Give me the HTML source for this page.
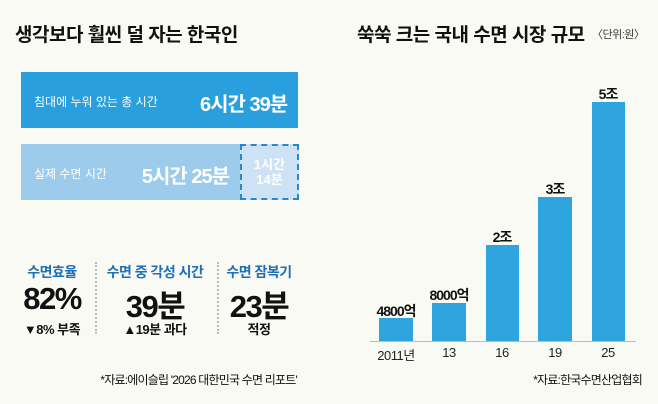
<!DOCTYPE html>
<html><head><meta charset="utf-8"><style>
body{margin:0;width:658px;height:404px;background:#fafaf5;position:relative;overflow:hidden;font-family:"Liberation Sans","Noto Sans CJK KR",sans-serif;}
div,span{position:absolute;white-space:nowrap;}
.t{font-weight:bold;font-size:19px;color:#111;letter-spacing:-0.5px;}
.w{color:#fff;}
.lab{font-size:14px;font-weight:bold;color:#1e6fb5;text-align:center;width:110px;letter-spacing:-0.5px}
.big{font-size:31px;font-weight:bold;color:#111;text-align:center;width:110px;letter-spacing:-1.5px}
.sub{font-size:13px;font-weight:bold;color:#111;text-align:center;width:110px;letter-spacing:-0.5px}
.bar{background:#2fa5e0}
.vl{font-size:14px;font-weight:bold;color:#111;text-align:center;width:70px;letter-spacing:-1px}
.xl{font-size:13px;color:#222;text-align:center;width:60px;letter-spacing:-0.5px}
</style></head><body>
<div class="t" style="left:15px;top:20px">생각보다 훨씬 덜 자는 한국인</div>
<div style="left:21px;top:72px;width:277px;height:56px;background:#2a9fdd"></div>
<div class="w" style="left:34px;top:93px;font-size:12px">침대에 누워 있는 총 시간</div>
<div class="w" style="left:200px;top:88px;width:87px;text-align:right;font-size:20px;font-weight:bold;letter-spacing:-1px">6시간 39분</div>
<div style="left:21px;top:144px;width:219px;height:56px;background:#9dcbec"></div>
<div style="left:240px;top:144px;width:55px;height:52px;background:#cde2f4;border:2px dashed #2a88c8"></div>
<div class="w" style="left:34px;top:165px;font-size:12px">실제 수면 시간</div>
<div class="w" style="left:140px;top:160px;width:89px;text-align:right;font-size:20px;font-weight:bold;letter-spacing:-1px">5시간 25분</div>
<div class="w" style="left:242px;top:157px;width:55px;text-align:center;font-size:13px;line-height:15px;font-weight:bold">1시간<br>14분</div>
<div class="lab" style="left:-3px;top:262px">수면효율</div>
<div class="lab" style="left:100px;top:262px">수면 중 각성 시간</div>
<div class="lab" style="left:204px;top:262px">수면 잠복기</div>
<div class="big" style="left:-3px;top:281px">82%</div>
<div class="big" style="left:100px;top:281px">39분</div>
<div class="big" style="left:204px;top:281px">23분</div>
<div class="sub" style="left:-3px;top:319px">▼8% 부족</div>
<div class="sub" style="left:100px;top:319px">▲19분 과다</div>
<div class="sub" style="left:204px;top:319px">적정</div>
<div style="left:95px;top:262px;height:72px;border-left:2px dotted #bbb"></div>
<div style="left:217px;top:262px;height:72px;border-left:2px dotted #bbb"></div>
<div style="left:100px;top:371px;width:197px;text-align:right;font-size:12px;color:#111;letter-spacing:-0.8px">*자료:에이슬립 '2026 대한민국 수면 리포트'</div>

<div class="t" style="left:357px;top:20px">쑥쑥 크는 국내 수면 시장 규모</div>
<div style="left:592px;top:26px;font-size:11px;color:#333;letter-spacing:-0.5px">〈단위:원〉</div>
<div class="bar" style="left:379px;top:318px;width:34px;height:23px"></div>
<div class="bar" style="left:432px;top:303px;width:34px;height:38px"></div>
<div class="bar" style="left:486px;top:245px;width:33px;height:96px"></div>
<div class="bar" style="left:538px;top:197px;width:34px;height:144px"></div>
<div class="bar" style="left:592px;top:102px;width:33px;height:239px"></div>
<div style="left:370px;top:341px;width:266px;height:1px;background:#bbb"></div>
<div class="vl" style="left:361px;top:301px">4800억</div>
<div class="vl" style="left:414px;top:285px">8000억</div>
<div class="vl" style="left:467px;top:227px">2조</div>
<div class="vl" style="left:520px;top:179px">3조</div>
<div class="vl" style="left:573px;top:84px">5조</div>
<div class="xl" style="left:366px;top:345px">2011년</div>
<div class="xl" style="left:419px;top:345px">13</div>
<div class="xl" style="left:472px;top:345px">16</div>
<div class="xl" style="left:525px;top:345px">19</div>
<div class="xl" style="left:578px;top:345px">25</div>
<div style="left:500px;top:371px;width:142px;text-align:right;font-size:12px;color:#111;letter-spacing:-0.8px">*자료:한국수면산업협회</div>
</body></html>
